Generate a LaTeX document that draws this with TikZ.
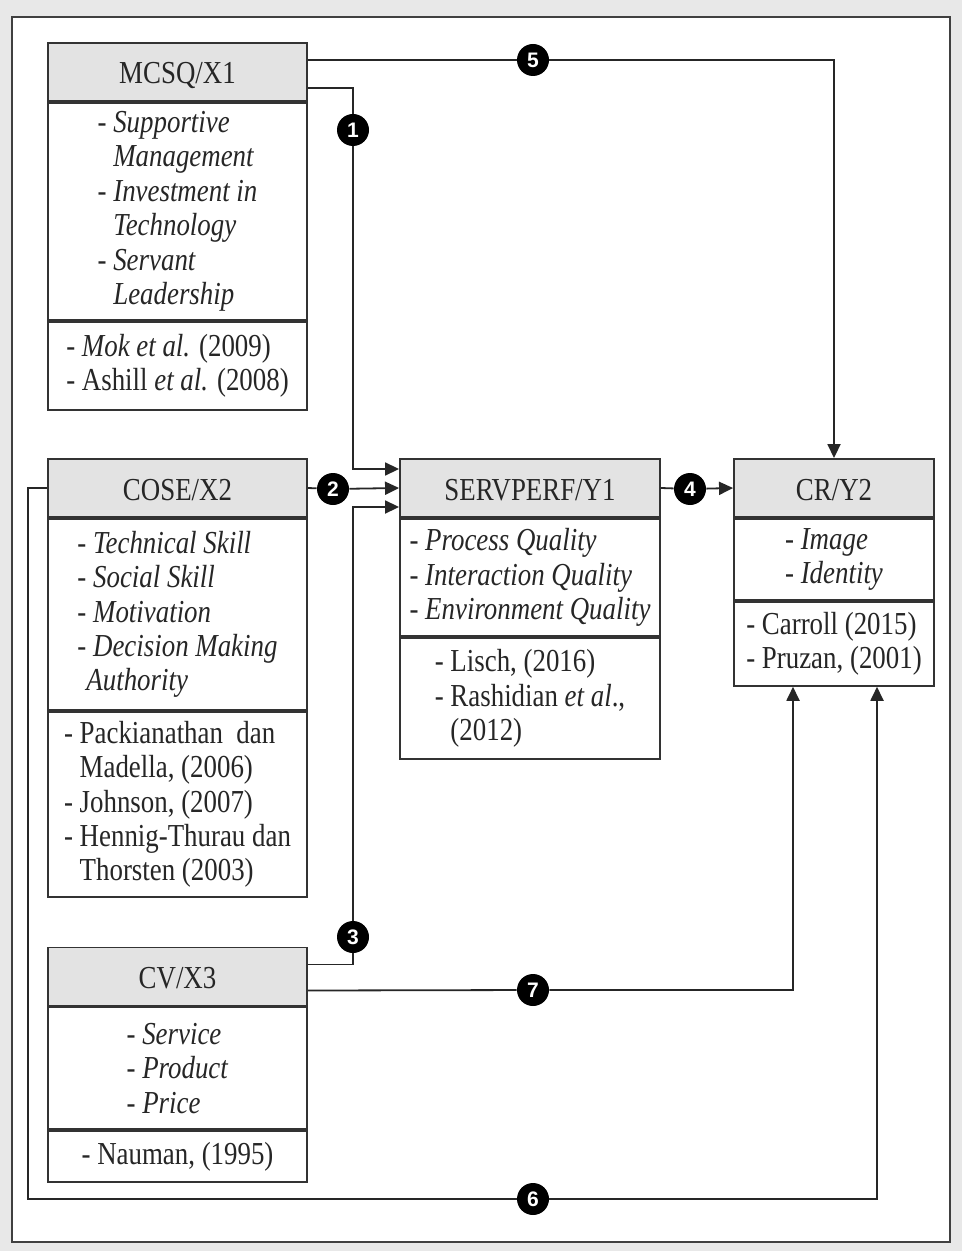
\documentclass[tikz,border=0pt]{standalone}
\usepackage{fontspec}
\setmainfont{Liberation Serif}[FakeStretch=0.84]
\newfontfamily\numfont{Liberation Sans}
\usepackage{tikz}
\usetikzlibrary{arrows.meta}

\begin{document}
\begin{tikzpicture}[x=.5pt,y=-.5pt,inner sep=0pt,
  headbox/.style={rectangle,draw=black!80,fill=black!11,line width=.95pt,text=black!85,minimum width=129.5pt,minimum height=29pt,text height=12pt,text depth=0pt,font=\fontsize{16}{17.2}\selectfont},
  listbox/.style={rectangle,draw=black!80,fill=white,line width=.95pt,text=black!85,minimum width=129.5pt,align=left,anchor=north,font=\fontsize{16}{17.2}\selectfont},
  numdot/.style={circle,fill=black,text=white,minimum size=16pt,font=\numfont\bfseries\fontsize{10.5}{10.5}\selectfont},
  link/.style={draw=black!85,line width=.9pt,-{Triangle[length=7pt,width=6.5pt]}}]
% frame
\fill[black!9] (0,0) rectangle (962,1251);
\draw[black!75,line width=.8pt,fill=white] (12,17) rectangle (950,1242);
\useasboundingbox (0,0) rectangle (962,1251);
% MCSQ
\node at (177.5,72) [headbox] (headX1) {MCSQ/X1};
\node at (headX1.south) [listbox,minimum height=108.5pt] (itemX1) {- \textit{Supportive}\\\phantom{- }\textit{Management}\\- \textit{Investment in}\\\phantom{- }\textit{Technology}\\- \textit{Servant}\\\phantom{- }\textit{Leadership}};
\node at (itemX1.south) [listbox,minimum height=44pt] (refX1) {- \textit{Mok et al.} (2009)\\- Ashill \textit{et al.} (2008)};
% COSE
\node at (177.5,488) [headbox] (headX2) {COSE/X2};
\node at (headX2.south) [listbox,minimum height=95.5pt] (itemX2) {- \textit{Technical Skill}\\- \textit{Social Skill}\\- \textit{Motivation}\\- \textit{Decision Making}\\\phantom{-}\textit{Authority}};
\node at (itemX2.south) [listbox,minimum height=92.5pt] (refX2) {- Packianathan~~dan\\\phantom{- }Madella, (2006)\\- Johnson, (2007)\\- Hennig-Thurau dan\\\phantom{- }Thorsten (2003)};
% CV
\node at (177.5,976.5) [headbox] (headX3) {CV/X3};
\node at (headX3.south) [listbox,minimum height=61pt] (itemX3) {- \textit{Service}\\- \textit{Product}\\- \textit{Price}};
\node at (itemX3.south) [listbox,minimum height=25.5pt] (refX3) {- Nauman, (1995)};
% SERVPERF
\node at (530,488) [headbox,minimum width=130pt] (headY1) {SERVPERF/Y1};
\node at (headY1.south) [listbox,minimum width=130pt,minimum height=58.5pt] (itemY1) {- \textit{Process Quality}\\- \textit{Interaction Quality}\\- \textit{Environment Quality}};
\node at (itemY1.south) [listbox,minimum width=130pt,minimum height=60.5pt] (refY1) {- Lisch, (2016)\\- Rashidian \textit{et al}.,\\\phantom{- }(2012)};
% CR
\node at (834,488) [headbox,minimum width=100pt] (headY2) {CR/Y2};
\node at (headY2.south) [listbox,minimum width=100pt,minimum height=40.5pt] (itemY2) {- \textit{Image}\\- \textit{Identity}};
\node at (itemY2.south) [listbox,minimum width=100pt,minimum height=42pt] (refY2) {- Carroll (2015)\\- Pruzan, (2001)};
% numbers
\node at (353,130) [numdot] (n1) {1};
\node at (333,489) [numdot] (n2) {2};
\node at (353,937) [numdot] (n3) {3};
\node at (690,489) [numdot] (n4) {4};
\node at (533,60) [numdot] (n5) {5};
\node at (533,1199) [numdot] (n6) {6};
\node at (533,990) [numdot] (n7) {7};
\coordinate (c6) at (28,1199);
% paths
\draw[link] ([yshift=-8pt]headX1.east) -| (n1) |- ([yshift=9.5pt]headY1.west);
\draw[link] (headX2.east) -- (n2) -- (headY1.west);
\draw[link] ([yshift=6pt]headX3.east) -| (n3) |- ([yshift=-9.5pt]headY1.west);
\draw[link] (headY1.east) -- (n4) -- (headY2.west);
\draw[link] ([yshift=6pt]headX1.east) -- (n5) -| (headY2.north);
\draw[link] (headX2.west) -| (c6) -- (n6) -| ([xshift=21.5pt]refY2.south);
\draw[link] ([yshift=-7pt]headX3.east) -- (n7) -| ([xshift=-20.5pt]refY2.south);
\end{tikzpicture}
\end{document}
